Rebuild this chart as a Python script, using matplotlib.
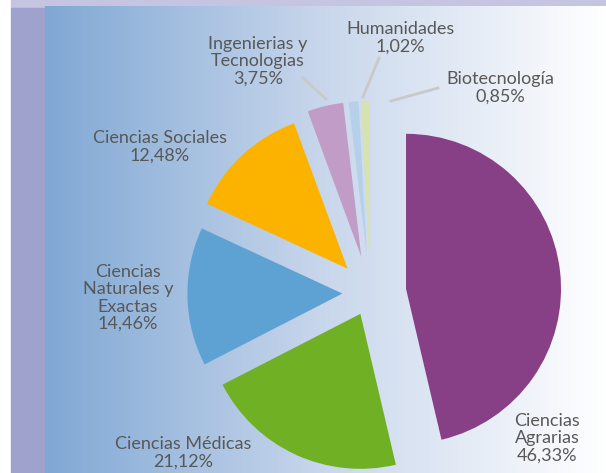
import numpy as np
import matplotlib
matplotlib.use("Agg")
import matplotlib.pyplot as plt
from matplotlib.colors import LinearSegmentedColormap
from matplotlib.patches import Rectangle

# datos del gráfico
areas = ["Ciencias\nAgrarias", "Ciencias Médicas", "Ciencias\nNaturales y\nExactas",
         "Ciencias Sociales", "Ingenierias y\nTecnologias", "Humanidades", "Biotecnología"]
porcentajes = [46.33, 21.12, 14.46, 12.48, 3.75, 1.02, 0.85]
colores = ["#873f86", "#6fb024", "#5ea2d3", "#fbb300", "#c19cc6", "#b6d0ea", "#d6e2b1"]
separacion = [0.234, 0.148, 0.178, 0.213, 0.24, 0.24, 0.24]  # fraccion del radio

# posiciones de las etiquetas (pixeles, origen arriba a la izquierda)
pos_etiquetas = [(547, 438), (183, 453), (128, 298), (160, 147), (258, 61), (400, 38), (500, 88)]
lineas_guia = {4: ((326, 99), (303, 78)), 5: ((363, 97), (379, 58)), 6: ((391, 101), (438, 88))}

W, H = 606, 473
R = 155
fig = plt.figure(figsize=(W / 100, H / 100), dpi=100)
fig.patch.set_facecolor("white")
ax = fig.add_axes([0, 0, 1, 1])

# fondo: banda superior, banda izquierda y panel con degradado
ax.add_patch(Rectangle((11, H - 7), W - 11, 7, color="#c5c4e1", zorder=0))
ax.add_patch(Rectangle((11, 0), 34, H - 8, color="#9ea2cc", zorder=0))
cmap = LinearSegmentedColormap.from_list("fondo", ["#80a8d4", "#c9d7ec", "#ffffff"])
grad = np.linspace(0, 1, 256).reshape(1, -1)
ax.imshow(grad, cmap=cmap, extent=[45, W, 0, H - 7], aspect="auto", zorder=0)

# matplotlib usa explode en unidades de datos, no en fraccion del radio
ax.pie(porcentajes, colors=colores, explode=[s * R for s in separacion], startangle=90,
       counterclock=False, center=(370, H - 293), radius=R,
       wedgeprops=dict(linewidth=0, zorder=2))

for i, (nombre, v) in enumerate(zip(areas, porcentajes)):
    texto = nombre + "\n" + f"{v:.2f}".replace(".", ",") + "%"
    x, y = pos_etiquetas[i]
    ax.text(x, H - y, texto, ha="center", va="center", fontsize=13, color="#585858",
            family="Lato", linespacing=1.1, zorder=4)
    if i in lineas_guia:
        (x0, y0), (x1, y1) = lineas_guia[i]
        ax.plot([x0, x1], [H - y0, H - y1], color="#c9c9c9", lw=2, zorder=3)

ax.set_xlim(0, W)
ax.set_ylim(0, H)
ax.set_aspect("auto")
ax.axis("off")

fig.savefig("out.png", dpi=100)
